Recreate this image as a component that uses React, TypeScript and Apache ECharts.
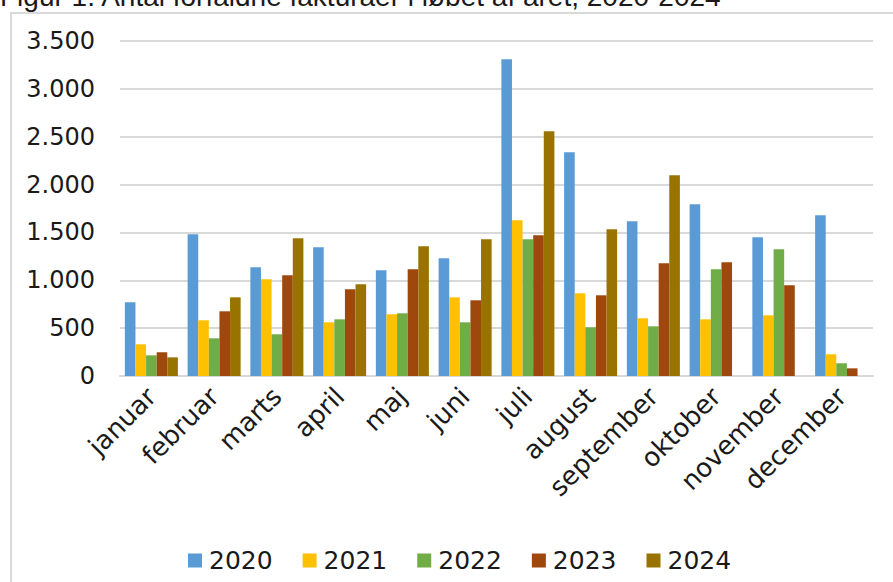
import React, { useEffect, useRef } from "react";
import * as echarts from "echarts";

const months = ["januar", "februar", "marts", "april", "maj", "juni", "juli", "august", "september", "oktober", "november", "december"];
const years = ["2020", "2021", "2022", "2023", "2024"];
const colors = ["#5B9BD5", "#FFC000", "#70AD47", "#9E480E", "#997300"];
const v2020 = [770, 1481, 1136, 1345, 1105, 1230, 3310, 2338, 1617, 1794, 1449, 1679];
const v2021 = [331, 582, 1010, 561, 645, 822, 1627, 864, 603, 592, 634, 227];
const v2022 = [216, 394, 436, 592, 655, 561, 1429, 509, 519, 1115, 1324, 133];
const v2023 = [248, 676, 1052, 906, 1115, 791, 1470, 843, 1178, 1188, 948, 80];
const v2024: (number | null)[] = [195, 822, 1439, 958, 1355, 1429, 2557, 1533, 2097, null, null, null];
const seriesValues = [v2020, v2021, v2022, v2023, v2024];
const title = "Figur 1. Antal forfaldne fakturaer i løbet af året, 2020-2024";

const FONT = "DejaVu Sans";
const fmt = (v: number) => String(v).replace(/\B(?=(\d{3})+(?!\d))/g, ".");

export default function App() {
  const ref = useRef<HTMLDivElement>(null);
  useEffect(() => {
    if (!ref.current) return;
    const chart = echarts.init(ref.current, null, { renderer: "svg" });
    chart.setOption({
      animation: false,
      backgroundColor: "#ffffff",
      textStyle: { fontFamily: FONT },
      graphic: [
        {
          type: "rect",
          shape: { x: 11, y: 13, width: 920, height: 620 },
          style: { fill: "none", stroke: "#d9d9d9", lineWidth: 2 },
          silent: true,
        },
        {
          type: "text",
          x: 0,
          y: -4,
          style: {
            text: title,
            font: "28px 'Liberation Sans'",
            fill: "#1a1a1a",
            verticalAlign: "middle",
            align: "left",
          },
        },
      ],
      grid: { left: 120, top: 41, width: 753, height: 335, containLabel: false },
      legend: {
        data: years,
        left: 183,
        top: 543,
        itemWidth: 14,
        itemHeight: 14,
        itemGap: 30,
        icon: "rect",
        textStyle: { fontSize: 25, color: "#1a1a1a", fontFamily: FONT, padding: [0, 0, 0, 2] },
      },
      xAxis: {
        type: "category",
        data: months,
        axisLine: { show: true, lineStyle: { color: "#d9d9d9", width: 2 } },
        axisTick: { show: false },
        axisLabel: { rotate: 45, fontSize: 26, color: "#1a1a1a", margin: 16, interval: 0, fontFamily: FONT },
      },
      yAxis: {
        type: "value",
        min: 0,
        max: 3500,
        interval: 500,
        axisLine: { show: false },
        axisTick: { show: false },
        splitLine: { lineStyle: { color: "#d9d9d9", width: 2 } },
        axisLabel: { fontSize: 24, color: "#1a1a1a", margin: 25, formatter: fmt, fontFamily: FONT },
      },
      series: years.map((y, i) => ({
        name: y,
        type: "bar",
        data: seriesValues[i],
        itemStyle: { color: colors[i] },
        barGap: "0%",
        barCategoryGap: "15.5%",
      })),
    });
    return () => chart.dispose();
  }, []);
  return <div ref={ref} style={{ position: "absolute", left: 0, top: 0, width: 893, height: 582 }} />;
}
